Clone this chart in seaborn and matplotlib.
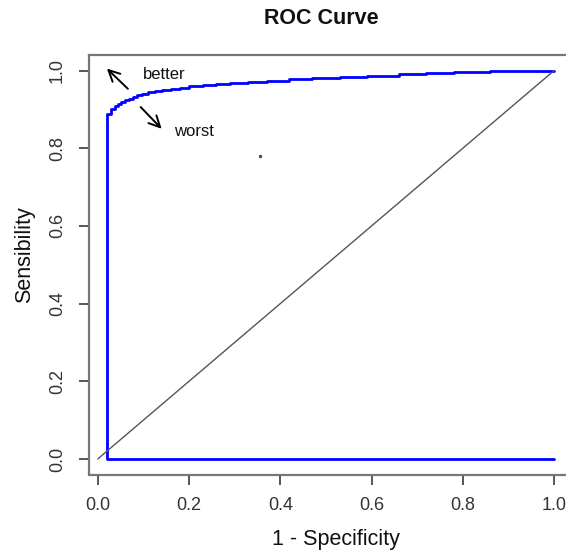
import matplotlib
matplotlib.use("Agg")
import matplotlib.pyplot as plt
import seaborn as sns
import pandas as pd

# ROC staircase: false positive rate (1 - specificity) and true positive rate
fpr = [1.0, 0.02, 0.02, 0.030, 0.037, 0.045, 0.052, 0.060, 0.068, 0.077, 0.087,
       0.098, 0.11, 0.125, 0.14, 0.16, 0.18, 0.20, 0.23, 0.26, 0.29, 0.33,
       0.37, 0.42, 0.47, 0.53, 0.59, 0.66, 0.72, 0.78, 0.86, 0.94, 1.0]
tpr = [0.0, 0.0, 0.888, 0.900, 0.909, 0.914, 0.919, 0.924, 0.928, 0.932, 0.936,
       0.940, 0.944, 0.947, 0.950, 0.953, 0.956, 0.959, 0.962, 0.965, 0.968, 0.971,
       0.974, 0.977, 0.980, 0.983, 0.987, 0.991, 0.994, 0.996, 0.998, 1.0, 1.0]

# chance line
diag_x = [0.0, 1.0]
diag_y = [0.0, 1.0]

# stray point
dot_x = [0.355]
dot_y = [0.78]

tick_vals = [0.0, 0.2, 0.4, 0.6, 0.8, 1.0]
tick_labels = ["0.0", "0.2", "0.4", "0.6", "0.8", "1.0"]

sns.set_theme(style="white")
plt.rcParams["font.family"] = ["Liberation Sans", "DejaVu Sans"]

W, H = 566, 556
fig = plt.figure(figsize=(W / 100, H / 100), dpi=100)
left, right, top, bottom = 89, 572, 55, 474.5
ax = fig.add_axes([left / W, (H - bottom) / H, (right - left) / W, (bottom - top) / H])

roc = pd.DataFrame({"fpr": fpr, "tpr": tpr})
sns.lineplot(data=roc, x="fpr", y="tpr", sort=False, estimator=None,
             drawstyle="steps-post", color="#0000ff", linewidth=2.0, ax=ax)
sns.lineplot(x=diag_x, y=diag_y, color="#555555", linewidth=1.0, ax=ax)
ax.scatter(dot_x, dot_y, s=2, color="#444444", zorder=3)

arrow_style = dict(arrowstyle="->", color="black", lw=1.4, mutation_scale=20,
                   shrinkA=0, shrinkB=0)
ax.annotate("", xy=(0.02, 1.005), xytext=(0.066, 0.953), arrowprops=arrow_style)
ax.annotate("", xy=(0.14, 0.85), xytext=(0.094, 0.906), arrowprops=arrow_style)
ax.text(0.145, 0.989, "better", ha="center", va="center", fontsize=12, color="#111111")
ax.text(0.210, 0.844, "worst", ha="center", va="center", fontsize=12, color="#111111")

ax.set_xlim(-0.0192, 1.0392)
ax.set_ylim(-0.04, 1.04)
ax.set_xticks(tick_vals)
ax.set_xticklabels(tick_labels)
ax.set_yticks(tick_vals)
ax.set_yticklabels(tick_labels, rotation=90, va="center")

for side in ["left", "bottom", "top", "right"]:
    ax.spines[side].set_color("#777777")
    ax.spines[side].set_linewidth(1.6)
ax.tick_params(axis="both", direction="out", length=7.5, width=1.4,
               color="#555555", labelsize=13, labelcolor="#333333", pad=9,
               bottom=True, left=True)

ax.set_xlabel("1 - Specificity", fontsize=15.5, color="#111111", va="center")
ax.set_ylabel("Sensibility", fontsize=15.5, color="#111111", va="center")
ax.xaxis.set_label_coords(0.512, -0.156)
ax.yaxis.set_label_coords(-0.1325, 0.523)
fig.text(321 / W, 1 - 18 / H, "ROC Curve", ha="center", va="center",
         fontsize=15.5, fontweight="bold", color="#111111")

fig.savefig("out.png", dpi=100, facecolor="white")
